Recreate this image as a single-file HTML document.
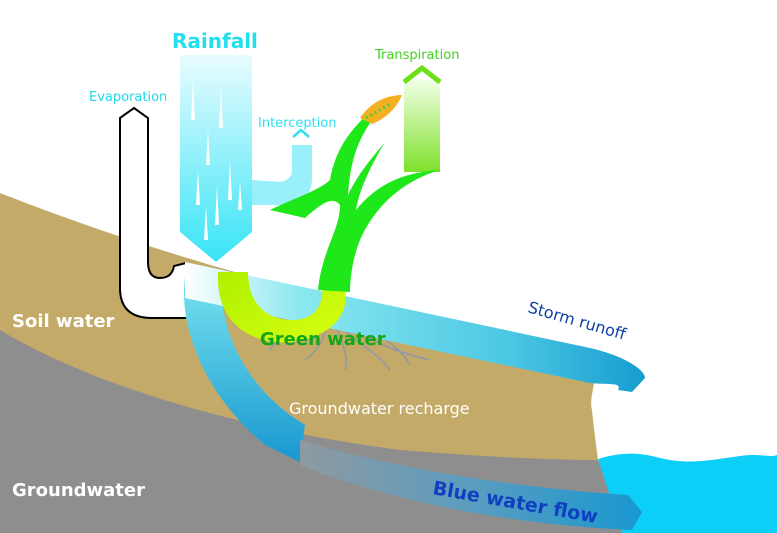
<!DOCTYPE html>
<html><head><meta charset="utf-8"><style>
html,body{margin:0;padding:0;background:#fff;}
svg{display:block;}
text{font-family:"DejaVu Sans","Liberation Sans",sans-serif;}
</style></head><body>
<svg width="777" height="533" viewBox="0 0 777 533" xmlns="http://www.w3.org/2000/svg">
<defs>
<linearGradient id="rain" x1="0" y1="0" x2="0" y2="1">
<stop offset="0" stop-color="#e8fcff"/><stop offset="1" stop-color="#38e4f6"/></linearGradient>
<linearGradient id="trans" x1="0" y1="0" x2="0" y2="1">
<stop offset="0" stop-color="#f2ffe6"/><stop offset="1" stop-color="#7ee02a"/></linearGradient>
<linearGradient id="runoff" x1="0" y1="0" x2="1" y2="0">
<stop offset="0" stop-color="#ffffff"/><stop offset="0.25" stop-color="#8ae8f0"/><stop offset="0.7" stop-color="#4cc8e4"/><stop offset="1" stop-color="#169cd0"/></linearGradient>
<linearGradient id="recharge" x1="0" y1="0" x2="0" y2="1">
<stop offset="0" stop-color="#7ae6f0"/><stop offset="1" stop-color="#1898d0"/></linearGradient>
<linearGradient id="blue" x1="0" y1="0" x2="1" y2="0">
<stop offset="0" stop-color="#8f9aa0"/><stop offset="0.5" stop-color="#5a9cc0"/><stop offset="1" stop-color="#1898d0"/></linearGradient>
<linearGradient id="gw" x1="0" y1="0" x2="1" y2="1">
<stop offset="0" stop-color="#aef000"/><stop offset="1" stop-color="#d8ff10"/></linearGradient>
</defs>

<path d="M0,193 C120,240 300,300 592,356 C600,380 588,395 592,410 C594,430 596,445 598,460 L598,533 L0,533 Z" fill="#c4aa68"/>
<path d="M0,330 C100,390 250,430 400,450 C500,458 560,460 598,460 L640,533 L0,533 Z" fill="#8e8e8e"/>
<path d="M598,459 C620,452 640,452 660,458 C690,465 710,460 740,456 C760,453 770,458 777,455 L777,533 L622,533 Z" fill="#0ccff8"/>

<g stroke="#8e98aa" stroke-width="1.5" fill="none">
<path d="M330,300 C320,320 300,330 260,325"/><path d="M330,300 C330,330 320,350 305,360"/>
<path d="M335,305 C350,320 380,325 420,335"/><path d="M335,305 C360,340 390,350 430,360"/>
<path d="M330,310 C340,340 350,355 345,370"/><path d="M325,305 C300,300 280,305 262,300"/>
<path d="M340,310 C370,330 400,345 410,365"/><path d="M320,310 C310,320 290,315 270,310"/>
<path d="M345,330 C360,345 380,355 390,370"/><path d="M300,318 C290,330 280,335 270,350"/>
</g>

<!-- evaporation pipe -->
<path d="M186,318 L152,318 Q120,318 120,288 L120,118 L134,108 L148,118 L148,262 Q148,278 160,278 Q172,278 174,266 L186,263" fill="#fff" stroke="#000" stroke-width="2" stroke-linejoin="miter"/>

<path d="M186,270 C175,330 210,400 265,445 L300,462 L305,425 C255,395 218,340 222,278 Z" fill="url(#recharge)"/>
<path d="M300,440 C400,470 520,488 628,495 L642,512 L632,530 C520,525 400,505 300,465 Z" fill="url(#blue)"/>

<path d="M185,262 L590,348 C625,356 645,370 645,378 L632,392 L618,390 C622,382 610,385 590,383 L185,298 Z" fill="url(#runoff)"/>

<path d="M180,55 L252,55 L252,232 L216,262 L180,232 Z" fill="url(#rain)"/>
<g fill="#fff">
<path d="M193,80 l2,40 l-4,0z"/><path d="M221,88 l2,40 l-4,0z"/><path d="M208,130 l2,35 l-4,0z"/>
<path d="M230,160 l2,40 l-4,0z"/><path d="M198,170 l2,35 l-4,0z"/><path d="M217,185 l2,40 l-4,0z"/>
<path d="M240,180 l2,30 l-4,0z"/><path d="M206,205 l2,35 l-4,0z"/>
</g>
<path d="M252,180 L280,182 Q292,180 292,170 L292,145 L312,145 L312,178 Q312,205 280,205 L252,205 Z" fill="#9af0fa"/>
<path d="M293,137 L301,130 L309,137" fill="none" stroke="#30e0f0" stroke-width="2.5"/>

<path d="M404,80 L440,80 L440,172 L404,172 Z" fill="url(#trans)"/>
<path d="M404,82 L422,68 L440,82" fill="none" stroke="#6ee01a" stroke-width="5"/>

<path d="M218,272 C215,330 260,345 290,342 C330,338 350,315 345,290 L322,280 C325,305 315,320 292,320 C268,320 248,305 248,272 Z" fill="url(#gw)"/>

<g fill="#1ee81a">
<path d="M318,290 C322,250 340,230 340,205 C332,195 320,205 305,218 L270,210 C290,200 320,190 330,180 C335,150 350,130 370,112 L376,115 C356,140 350,165 348,195 C360,170 375,155 385,142 C368,170 358,195 356,210 C380,180 410,172 440,170 C405,180 375,205 360,240 C352,260 350,280 350,292 Z"/>
</g>
<path d="M360,118 C372,100 390,95 402,95 C398,105 388,118 372,124 Z" fill="#f4b020"/>
<path d="M366,118 L392,103" stroke="#40d040" stroke-width="3" stroke-dasharray="2 3"/>

<text x="172" y="48" font-size="20" font-weight="bold" fill="#20e0f0">Rainfall</text>
<text x="89" y="101" font-size="13" fill="#20d8ec">Evaporation</text>
<text x="258" y="127" font-size="13" fill="#30e0f0">Interception</text>
<text x="375" y="59" font-size="13" fill="#40d020">Transpiration</text>
<text x="12" y="327" font-size="18" font-weight="bold" fill="#fff">Soil water</text>
<text x="12" y="496" font-size="18" font-weight="bold" fill="#fff">Groundwater</text>
<text x="260" y="345" font-size="18" font-weight="bold" fill="#10a818">Green water</text>
<text x="289" y="414" font-size="16" fill="#fff">Groundwater recharge</text>
<text x="527" y="312" font-size="16" fill="#1040a0" transform="rotate(16 527 312)">Storm runoff</text>
<text x="432" y="494" font-size="19" font-weight="bold" fill="#1040c0" transform="rotate(10 432 494)">Blue water flow</text>
</svg>
</body></html>
